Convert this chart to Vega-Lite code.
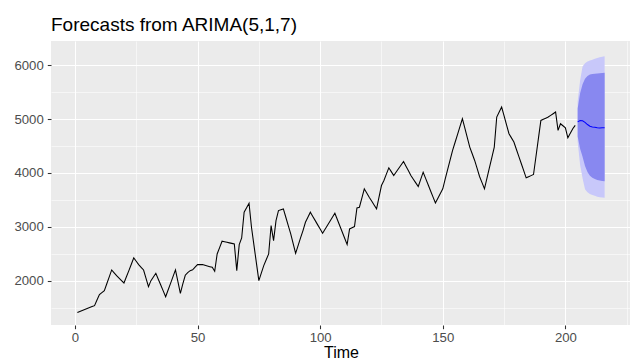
{
  "$schema": "https://vega.github.io/schema/vega-lite/v6.json",
  "width": 580,
  "height": 284,
  "autosize": {"type": "none"},
  "padding": {"left": 51, "top": 41, "right": 0, "bottom": 36},
  "background": "white",
  "title": {"text": "Forecasts from ARIMA(5,1,7)", "anchor": "start", "frame": "group", "fontSize": 19, "font": "Liberation Sans", "fontWeight": "normal", "color": "black", "offset": 6},
  "config": {
    "view": {"fill": "#EBEBEB", "stroke": null},
    "axis": {"labelFont": "Liberation Sans", "titleFont": "Liberation Sans", "labelColor": "#4D4D4D", "labelFontSize": 13.2, "domain": false, "gridColor": "white", "tickSize": 3.7, "tickWidth": 1.07, "titleFontWeight": "normal", "titleColor": "black", "titleFontSize": 16}
  },
  "datasets": {
    "hist": [
      {"t":1,"y":1410},{"t":2,"y":1428},{"t":3,"y":1446},{"t":4,"y":1464},{"t":5,"y":1482},{"t":6,"y":1500},{"t":7,"y":1518},{"t":8,"y":1535},{"t":9,"y":1640},{"t":10,"y":1740},
      {"t":11,"y":1777},{"t":12,"y":1814},{"t":13,"y":1942},{"t":14,"y":2070},{"t":15,"y":2199},{"t":16,"y":2146},{"t":17,"y":2093},{"t":18,"y":2048},{"t":19,"y":2002},{"t":20,"y":1957},
      {"t":21,"y":2072},{"t":22,"y":2186},{"t":23,"y":2304},{"t":24,"y":2422},{"t":25,"y":2360},{"t":26,"y":2298},{"t":27,"y":2248},{"t":28,"y":2198},{"t":29,"y":2043},{"t":30,"y":1888},
      {"t":31,"y":2000},{"t":32,"y":2068},{"t":33,"y":2136},{"t":34,"y":2027},{"t":35,"y":1919},{"t":36,"y":1810},{"t":37,"y":1702},{"t":38,"y":1826},{"t":39,"y":1950},{"t":40,"y":2075},
      {"t":41,"y":2199},{"t":42,"y":1980},{"t":43,"y":1764},{"t":44,"y":1940},{"t":45,"y":2100},{"t":46,"y":2150},{"t":47,"y":2186},{"t":48,"y":2200},{"t":49,"y":2250},{"t":50,"y":2298},
      {"t":51,"y":2298},{"t":52,"y":2298},{"t":53,"y":2285},{"t":54,"y":2273},{"t":55,"y":2260},{"t":56,"y":2248},{"t":57,"y":2174},{"t":58,"y":2496},{"t":59,"y":2614},{"t":60,"y":2732},
      {"t":61,"y":2722},{"t":62,"y":2712},{"t":63,"y":2702},{"t":64,"y":2692},{"t":65,"y":2682},{"t":66,"y":2186},{"t":67,"y":2670},{"t":68,"y":2793},{"t":69,"y":3271},{"t":70,"y":3355},
      {"t":71,"y":3439},{"t":72,"y":2992},{"t":73,"y":2661},{"t":74,"y":2330},{"t":75,"y":2000},{"t":76,"y":2140},{"t":77,"y":2279},{"t":78,"y":2388},{"t":79,"y":2496},{"t":80,"y":3023},
      {"t":81,"y":2744},{"t":82,"y":3116},{"t":83,"y":3302},{"t":84,"y":3318},{"t":85,"y":3333},{"t":86,"y":3178},{"t":87,"y":3023},{"t":88,"y":2868},{"t":89,"y":2688},{"t":90,"y":2508},
      {"t":91,"y":2650},{"t":92,"y":2793},{"t":93,"y":2930},{"t":94,"y":3085},{"t":95,"y":3178},{"t":96,"y":3271},{"t":97,"y":3193},{"t":98,"y":3115},{"t":99,"y":3036},{"t":100,"y":2958},
      {"t":101,"y":2880},{"t":102,"y":2954},{"t":103,"y":3029},{"t":104,"y":3103},{"t":105,"y":3178},{"t":106,"y":3252},{"t":107,"y":3136},{"t":108,"y":3020},{"t":109,"y":2903},{"t":110,"y":2787},
      {"t":111,"y":2670},{"t":112,"y":2961},{"t":113,"y":2983},{"t":114,"y":3005},{"t":115,"y":3352},{"t":116,"y":3364},{"t":117,"y":3535},{"t":118,"y":3706},{"t":119,"y":3628},{"t":120,"y":3550},
      {"t":121,"y":3478},{"t":122,"y":3405},{"t":123,"y":3333},{"t":124,"y":3550},{"t":125,"y":3767},{"t":126,"y":3860},{"t":127,"y":3978},{"t":128,"y":4096},{"t":129,"y":4025},{"t":130,"y":3953},
      {"t":131,"y":4018},{"t":132,"y":4084},{"t":133,"y":4149},{"t":134,"y":4214},{"t":135,"y":4127},{"t":136,"y":4040},{"t":137,"y":3953},{"t":138,"y":3885},{"t":139,"y":3817},{"t":140,"y":3749},
      {"t":141,"y":3882},{"t":142,"y":4015},{"t":143,"y":3900},{"t":144,"y":3786},{"t":145,"y":3671},{"t":146,"y":3557},{"t":147,"y":3442},{"t":148,"y":3530},{"t":149,"y":3618},{"t":150,"y":3706},
      {"t":151,"y":3892},{"t":152,"y":4068},{"t":153,"y":4243},{"t":154,"y":4419},{"t":155,"y":4566},{"t":156,"y":4714},{"t":157,"y":4861},{"t":158,"y":5008},{"t":159,"y":4832},{"t":160,"y":4657},
      {"t":161,"y":4481},{"t":162,"y":4357},{"t":163,"y":4233},{"t":164,"y":4084},{"t":165,"y":3935},{"t":166,"y":3820},{"t":167,"y":3706},{"t":168,"y":3900},{"t":169,"y":4094},{"t":170,"y":4287},
      {"t":171,"y":4481},{"t":172,"y":5039},{"t":173,"y":5132},{"t":174,"y":5225},{"t":175,"y":5060},{"t":176,"y":4894},{"t":177,"y":4729},{"t":178,"y":4652},{"t":179,"y":4574},{"t":180,"y":4441},
      {"t":181,"y":4308},{"t":182,"y":4176},{"t":183,"y":4043},{"t":184,"y":3910},{"t":185,"y":3931},{"t":186,"y":3951},{"t":187,"y":3972},{"t":188,"y":4307},{"t":189,"y":4642},{"t":190,"y":4977},
      {"t":191,"y":4998},{"t":192,"y":5018},{"t":193,"y":5039},{"t":194,"y":5070},{"t":195,"y":5101},{"t":196,"y":5132},{"t":197,"y":4791},{"t":198,"y":4915},{"t":199,"y":4878},{"t":200,"y":4840},
      {"t":201,"y":4654},{"t":202,"y":4738},{"t":203,"y":4822},{"t":204,"y":4884}
    ],
    "mean": [
      {"t":205,"y":4950},{"t":206,"y":4975},{"t":207,"y":4970},{"t":208,"y":4940},{"t":209,"y":4900},{"t":210,"y":4870},
      {"t":211,"y":4855},{"t":212,"y":4850},{"t":213,"y":4840},{"t":214,"y":4835},{"t":215,"y":4840},{"t":216,"y":4840}
    ],
    "band80": [
      {"t":205,"y":4680,"y2":5200},{"t":206,"y":4450,"y2":5480},{"t":207,"y":4300,"y2":5650},{"t":208,"y":4130,"y2":5750},
      {"t":209,"y":4020,"y2":5800},{"t":210,"y":3950,"y2":5830},{"t":211,"y":3910,"y2":5840},{"t":212,"y":3890,"y2":5845},
      {"t":213,"y":3870,"y2":5850},{"t":214,"y":3860,"y2":5855},{"t":215,"y":3850,"y2":5858},{"t":216,"y":3845,"y2":5860}
    ],
    "band95": [
      {"t":205,"y":4580,"y2":5330},{"t":206,"y":4150,"y2":5720},{"t":207,"y":3900,"y2":5980},{"t":208,"y":3700,"y2":6040},
      {"t":209,"y":3640,"y2":6070},{"t":210,"y":3610,"y2":6090},{"t":211,"y":3590,"y2":6105},{"t":212,"y":3575,"y2":6120},
      {"t":213,"y":3560,"y2":6135},{"t":214,"y":3550,"y2":6150},{"t":215,"y":3545,"y2":6160},{"t":216,"y":3540,"y2":6170}
    ]
  },
  "encoding": {
    "x": {"field": "t", "type": "quantitative",
      "scale": {"domain": [-9.75, 226.75], "nice": false, "zero": false},
      "axis": {"title": "Time", "values": [0,25,50,75,100,125,150,175,200,225],
        "labelExpr": "datum.value % 50 == 0 ? datum.label : ''",
        "gridWidth": {"condition": {"test": "datum.value % 50 != 0", "value": 0.55}, "value": 1.07},
        "tickColor": {"condition": {"test": "datum.value % 50 != 0", "value": "transparent"}, "value": "#333333"},
        "labelPadding": 3, "titlePadding": 1}
    },
    "y": {"field": "y", "type": "quantitative",
      "scale": {"domain": [1176, 6452], "nice": false, "zero": false},
      "axis": {"title": null, "values": [1500,2000,2500,3000,3500,4000,4500,5000,5500,6000],
        "format": "d",
        "labelExpr": "datum.value % 1000 == 0 ? datum.label : ''",
        "gridWidth": {"condition": {"test": "datum.value % 1000 != 0", "value": 0.55}, "value": 1.07},
        "tickColor": {"condition": {"test": "datum.value % 1000 != 0", "value": "transparent"}, "value": "#333333"},
        "labelPadding": 4}
    }
  },
  "layer": [
    {
      "data": {"name": "band95"},
      "mark": {"type": "area", "color": "#C8C8FA", "opacity": 1},
      "encoding": {"y2": {"field": "y2"}}
    },
    {
      "data": {"name": "band80"},
      "mark": {"type": "area", "color": "#8888F0", "opacity": 1},
      "encoding": {"y2": {"field": "y2"}}
    },
    {
      "data": {"name": "hist"},
      "mark": {"type": "line", "color": "black", "strokeWidth": 1.07},
      "encoding": {}
    },
    {
      "data": {"name": "mean"},
      "mark": {"type": "line", "color": "#0000FF", "strokeWidth": 1.07},
      "encoding": {}
    }
  ]
}
